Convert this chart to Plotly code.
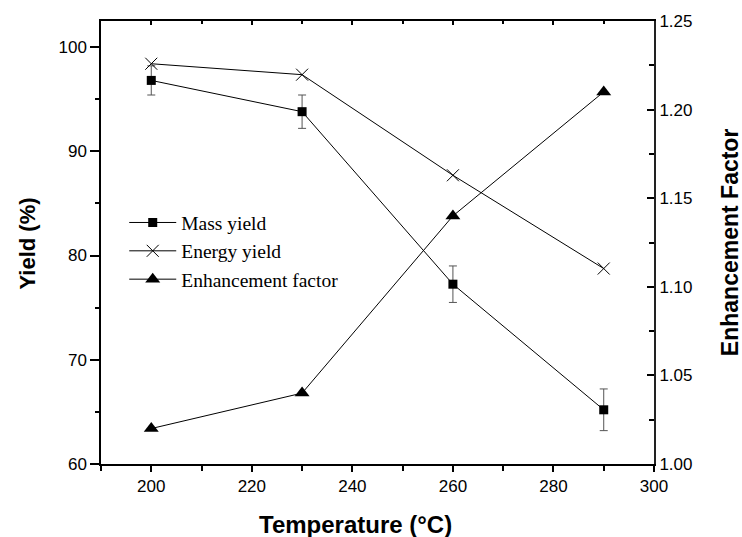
import plotly.graph_objects as go

temperature = [200, 230, 260, 290]
mass_yield = [96.8, 93.8, 77.25, 65.2]
mass_err = [1.4, 1.6, 1.75, 2.0]
energy_yield = [98.4, 97.35, 87.7, 78.75]
enhancement = [1.02, 1.04, 1.14, 1.21]

SANS = "Liberation Sans, Arial, sans-serif"
SERIF = "Liberation Serif, Times New Roman, serif"

fig = go.Figure()
fig.add_trace(go.Scatter(
    x=temperature, y=mass_yield, name="Mass yield", mode="lines+markers",
    line=dict(color="black", width=1),
    marker=dict(symbol="square", size=9, color="black"),
    error_y=dict(type="data", array=mass_err, visible=True, color="#555555", thickness=1, width=4),
))
fig.add_trace(go.Scatter(
    x=temperature, y=energy_yield, name="Energy yield", mode="lines+markers",
    line=dict(color="black", width=1),
    marker=dict(symbol="x-thin", size=12, color="black", line=dict(color="black", width=1)),
))
fig.add_trace(go.Scatter(
    x=temperature, y=enhancement, name="Enhancement factor", mode="lines+markers",
    yaxis="y2",
    line=dict(color="black", width=1),
    marker=dict(symbol="triangle-up", size=13, color="black"),
))
# invisible trace to anchor top mirror axis
fig.add_trace(go.Scatter(x=[temperature[0]], y=[mass_yield[0]], xaxis="x2", mode="markers",
                         marker=dict(opacity=0), showlegend=False, hoverinfo="skip"))

fig.add_annotation(text="<b>Temperature (°C)</b>", xref="paper", yref="paper",
                   x=0.4596, y=-0.1376, xanchor="center", yanchor="middle",
                   showarrow=False, font=dict(family=SANS, size=24, color="black"))
fig.add_annotation(text="<b>Yield (%)</b>", xref="paper", yref="paper",
                   x=-0.1332, y=0.4985, xanchor="center", yanchor="middle",
                   textangle=-90, showarrow=False, font=dict(family=SANS, size=22, color="black"))
fig.add_annotation(text="<b>Enhancement Factor</b>", xref="paper", yref="paper",
                   x=1.1374, y=0.5008, xanchor="center", yanchor="middle",
                   textangle=-90, showarrow=False, font=dict(family=SANS, size=23, color="black"))

fig.update_layout(
    width=742, height=537,
    margin=dict(l=100.7, r=88, t=20.7, b=73),
    paper_bgcolor="white", plot_bgcolor="white",
    font=dict(family=SANS, size=17, color="black"),
    showlegend=True,
    legend=dict(x=0.042, y=0.5885, xanchor="left", yanchor="top",
                font=dict(family=SERIF, size=19.5, color="black"),
                bgcolor="rgba(0,0,0,0)", tracegroupgap=0, itemwidth=47),
    xaxis=dict(
        range=[190, 300], dtick=20, tick0=200,
        ticks="outside", ticklen=6, tickwidth=1.5, tickcolor="black",
        showline=True, linecolor="black", linewidth=1.5,
        showgrid=False, zeroline=False, automargin=False,
        minor=dict(ticks="outside", dtick=10, ticklen=5, tickwidth=1.5, tickcolor="black", showgrid=False),
        tickfont=dict(size=17),
    ),
    xaxis2=dict(
        overlaying="x", side="top", range=[190, 300], dtick=20, tick0=200,
        ticks="inside", ticklen=4, tickwidth=1.5, tickcolor="black",
        showline=True, linecolor="black", linewidth=1.5,
        showticklabels=False, showgrid=False, zeroline=False, automargin=False,
        minor=dict(ticks="inside", dtick=10, ticklen=3, tickwidth=1.5, tickcolor="black", showgrid=False),
    ),
    yaxis=dict(
        range=[60, 102.5], dtick=10, tick0=60,
        ticks="outside", ticklen=9, tickwidth=1.5, tickcolor="black",
        showline=True, linecolor="black", linewidth=1.5,
        showgrid=False, zeroline=False, automargin=False,
        minor=dict(ticks="outside", dtick=5, ticklen=4, tickwidth=1.5, tickcolor="black", showgrid=False),
        tickfont=dict(size=17),
    ),
    yaxis2=dict(
        overlaying="y", side="right", anchor="x",
        range=[1.0, 1.25], dtick=0.05, tick0=1.0, tickformat=".2f",
        ticks="inside", ticklen=7, tickwidth=1.5, tickcolor="black",
        showline=True, linecolor="#222222", linewidth=2,
        showgrid=False, zeroline=False, automargin=False,
        minor=dict(ticks="inside", dtick=0.025, ticklen=5, tickwidth=1.5, tickcolor="black", showgrid=False),
        tickfont=dict(size=17),
    ),
)

fig.write_html(
    "out.html",
    config={"displayModeBar": False},
    post_script="document.body.style.margin='0';document.body.style.overflow='hidden';"
                "document.documentElement.style.overflow='hidden';",
)
